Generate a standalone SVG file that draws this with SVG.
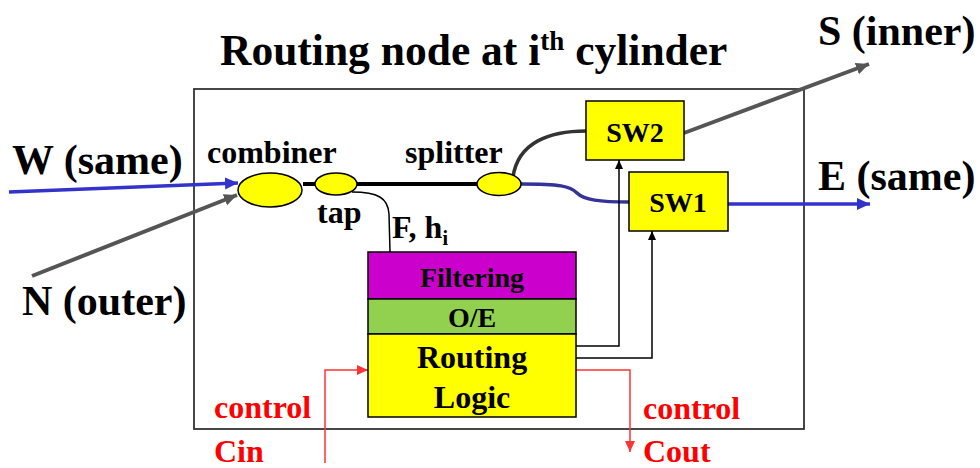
<svg xmlns="http://www.w3.org/2000/svg" width="980" height="468" viewBox="0 0 980 468">
<style>
text{font-family:"Liberation Serif","Times New Roman",serif;font-weight:bold;fill:#000}
.big{font-size:42px}
.ttl{font-size:43.5px}
.mid{font-size:32px}
.red{fill:#ff0000;font-size:32px}
.box{fill:#ffff00;stroke:#000;stroke-width:1.5}
.sw{font-size:28px;text-anchor:middle}
.ctl{fill:none;stroke:#000;stroke-width:1.5}
.rl{fill:none;stroke:#ff3333;stroke-width:1.5}
</style>
<defs>
<marker id="ab" markerUnits="userSpaceOnUse" markerWidth="14" markerHeight="14" refX="13" refY="7" orient="auto"><path d="M0,1 L13,7 L0,13 z" fill="#3333cc"/></marker>
<marker id="ag" markerUnits="userSpaceOnUse" markerWidth="14" markerHeight="14" refX="13" refY="7" orient="auto"><path d="M0,1 L13,7 L0,13 z" fill="#555"/></marker>
<marker id="ak" markerUnits="userSpaceOnUse" markerWidth="10" markerHeight="10" refX="9" refY="5" orient="auto"><path d="M0,1 L9,5 L0,9 z" fill="#000"/></marker>
<marker id="ar" markerUnits="userSpaceOnUse" markerWidth="12" markerHeight="12" refX="11" refY="6" orient="auto"><path d="M0,1 L11,6 L0,11 z" fill="#ff3333"/></marker>
</defs>
<rect width="980" height="468" fill="#fff"/>
<g id="outer-box"><rect x="194" y="89" width="610" height="340" fill="none" stroke="#333" stroke-width="1.8"/></g>
<g id="title"><text class="ttl" x="220" y="65">Routing node at i<tspan style="font-size:27px" dy="-15">th</tspan><tspan dy="15"> cylinder</tspan></text></g>
<g id="connectors">
<path d="M9,192 L238,183" stroke="#3333cc" stroke-width="3.5" fill="none" marker-end="url(#ab)"/>
<path d="M32,276 L237,195" stroke="#555" stroke-width="4" fill="none" marker-end="url(#ag)"/>
<path d="M303,184 L478,184" stroke="#000" stroke-width="4" fill="none"/>
<path d="M352,192 C378,192 388,198 389,214 L390,252" stroke="#000" stroke-width="1.5" fill="none"/>
<path d="M513,177 C518,142 550,131 586,131" stroke="#333" stroke-width="3.5" fill="none"/>
<path d="M521,184 C560,184 570,186 577,193 C584,200 600,202 629,202" stroke="#333399" stroke-width="3.5" fill="none"/>
<path d="M728,204 L870,204" stroke="#3333cc" stroke-width="3.5" fill="none" marker-end="url(#ab)"/>
<path d="M684,133 L869,64" stroke="#555" stroke-width="4" fill="none" marker-end="url(#ag)"/>
<path class="ctl" d="M576,346 L619,346 L619,160" marker-end="url(#ak)"/>
<path class="ctl" d="M576,358 L652,358 L652,231" marker-end="url(#ak)"/>
<path class="rl" d="M576,370 L630,370 L630,452" marker-end="url(#ar)"/>
<path class="rl" d="M325,463 L325,370 L368,370" marker-end="url(#ar)"/>
</g>
<g id="combiner"><ellipse cx="270" cy="190" rx="32" ry="17" class="box"/><text class="mid" x="207" y="163">combiner</text></g>
<g id="tap"><ellipse cx="336" cy="184" rx="21" ry="11" class="box"/><text class="mid" x="317" y="223">tap</text></g>
<g id="splitter"><ellipse cx="499" cy="184" rx="22" ry="11.5" class="box"/><text class="mid" x="405" y="163">splitter</text></g>
<g id="fh"><text class="mid" x="392" y="238">F, h<tspan style="font-size:20px" dy="7">i</tspan></text></g>
<g id="sw2"><rect x="586" y="101" width="98" height="59" class="box"/><text class="sw" x="635" y="142">SW2</text></g>
<g id="sw1"><rect x="629" y="172" width="99" height="59" class="box"/><text class="sw" x="678" y="212">SW1</text></g>
<g id="filtering"><rect x="368" y="252" width="208" height="47" fill="#cc00cc" stroke="#000" stroke-width="1.5"/><text class="sw" x="472" y="287">Filtering</text></g>
<g id="oe"><rect x="368" y="299" width="208" height="35" fill="#92d050" stroke="#000" stroke-width="1.5"/><text class="sw" x="472" y="327">O/E</text></g>
<g id="routing-logic"><rect x="368" y="334" width="208" height="83" class="box"/><text class="mid" x="472" y="368" text-anchor="middle">Routing</text><text class="mid" x="472" y="408" text-anchor="middle">Logic</text></g>
<g id="labels">
<text class="big" x="818" y="45">S (inner)</text>
<text class="big" x="12" y="174">W (same)</text>
<text class="big" x="818" y="190">E (same)</text>
<text class="big" x="22" y="315">N (outer)</text>
<text class="red" x="214" y="418">control</text>
<text class="red" x="214" y="462">Cin</text>
<text class="red" x="643" y="419">control</text>
<text class="red" x="643" y="462">Cout</text>
</g>
</svg>
